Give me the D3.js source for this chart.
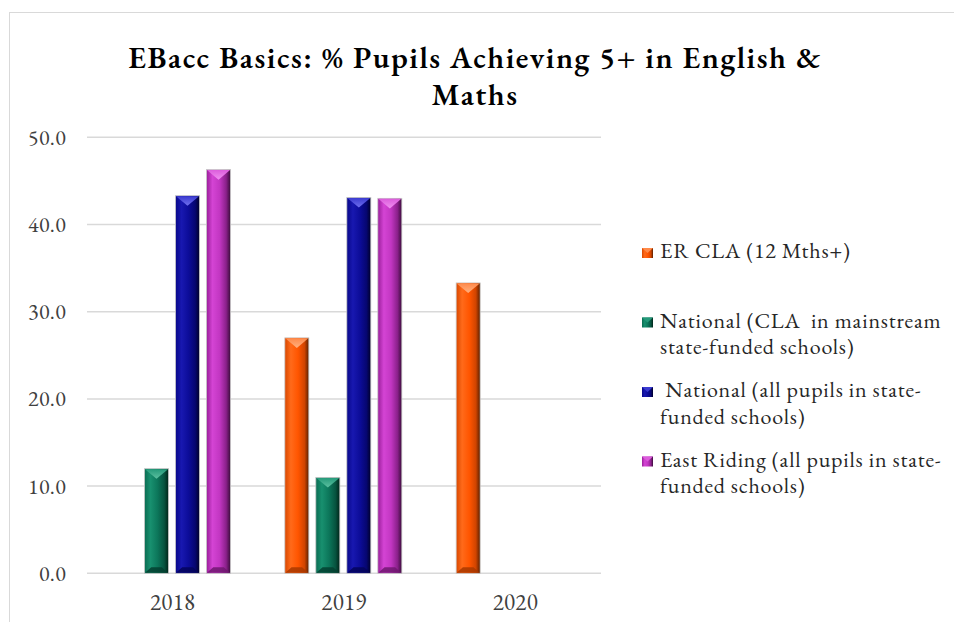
<!DOCTYPE html>
<html>
<head>
<meta charset="utf-8">
<script src="https://cdn.jsdelivr.net/npm/d3@7"></script>
<style>
  html, body { margin: 0; padding: 0; background: #fff; }
  svg { display: block; }
  text { font-family: "EB Garamond", Garamond, "Liberation Serif", "DejaVu Serif", serif; }
</style>
</head>
<body>
<div id="chart"></div>
<script>
/**
 * EBacc basics grouped bar chart — bevelled Excel-style bars.
 */
(function () {
  'use strict';

  var categories = ['2018', '2019', '2020'];
  var seriesNames = [
    'ER CLA (12 Mths+)',
    'National (CLA  in mainstream state-funded schools)',
    ' National (all pupils in state-funded schools)',
    'East Riding (all pupils in state-funded schools)'
  ];
  // legend text exactly as wrapped in the chart
  var legendLines = [
    ['ER CLA (12 Mths+)'],
    ['National (CLA  in mainstream', 'state-funded schools)'],
    [' National (all pupils in state-', 'funded schools)'],
    ['East Riding (all pupils in state-', 'funded schools)']
  ];
  var erCla = [null, 27.0, 33.3];
  var nationalCla = [12.0, 11.0, null];
  var nationalAll = [43.3, 43.1, null];
  var eastRiding = [46.3, 43.0, null];
  var yTicks = [0, 10, 20, 30, 40, 50];

  var seriesValues = [erCla, nationalCla, nationalAll, eastRiding];

  // side shading, top facet, bottom facet per series
  var palettes = [
    { stops: ['#d84800', '#ff6a1a', '#ff5500', '#d04400', '#5a2000'], top: '#ff8a4a', tip: '#ffb080', bottom: '#a83800' },
    { stops: ['#0a6c52', '#18906f', '#0c765a', '#07533f', '#002418'], top: '#259a7a', tip: '#5cc0a0', bottom: '#044030' },
    { stops: ['#08088a', '#1818b0', '#0c0c98', '#060670', '#000028'], top: '#3a3ad0', tip: '#7070ee', bottom: '#04045a' },
    { stops: ['#9a1e9a', '#d444d4', '#c236c2', '#8a208a', '#3a0c3a'], top: '#dc5cdc', tip: '#f090f0', bottom: '#701870' }
  ];
  var stopOffsets = ['0%', '25%', '55%', '82%', '100%'];

  var width = 954, height = 622;
  var plot = { left: 87, right: 601, top: 137.3, bottom: 573.3 };

  var svg = d3.select('#chart').append('svg')
    .attr('width', width).attr('height', height);

  var defs = svg.append('defs');
  palettes.forEach(function (p, i) {
    var g = defs.append('linearGradient').attr('id', 'side' + i)
      .attr('x1', '0%').attr('x2', '100%').attr('y1', '0%').attr('y2', '0%');
    p.stops.forEach(function (c, k) {
      g.append('stop').attr('offset', stopOffsets[k]).attr('stop-color', c);
    });
    var t = defs.append('linearGradient').attr('id', 'top' + i)
      .attr('x1', '0%').attr('x2', '0%').attr('y1', '0%').attr('y2', '100%');
    t.append('stop').attr('offset', '0%').attr('stop-color', p.top);
    t.append('stop').attr('offset', '100%').attr('stop-color', p.tip);
  });

  // chart frame
  svg.append('rect')
    .attr('x', 9.5).attr('y', 12.5).attr('width', 960).attr('height', 640)
    .attr('fill', '#fff').attr('stroke', '#d9d9d9').attr('stroke-width', 1);

  // title
  var title = svg.append('text')
    .attr('text-anchor', 'middle').attr('fill', '#000')
    .style('font-size', '31px').style('font-weight', '600')
    .style('letter-spacing', '1.5px');
  title.append('tspan').attr('x', 475).attr('y', 68).text('EBacc Basics: % Pupils Achieving 5+ in English &');
  title.append('tspan').attr('x', 475).attr('y', 105).text('Maths');

  var x0 = d3.scaleBand().domain(categories).range([plot.left, plot.right]);
  var x1 = d3.scaleBand().domain(d3.range(seriesNames.length))
    .range([26.5, 143.5]).paddingInner(7 / 31);
  var y = d3.scaleLinear().domain([0, 50]).range([plot.bottom, plot.top]);

  // gridlines
  svg.append('g').selectAll('line')
    .data(yTicks).enter().append('line')
    .attr('x1', plot.left).attr('x2', plot.right)
    .attr('y1', function (d) { return y(d); }).attr('y2', function (d) { return y(d); })
    .attr('stroke', '#d9d9d9').attr('stroke-width', 1.5);

  // y tick labels
  svg.append('g').selectAll('text')
    .data(yTicks).enter().append('text')
    .attr('x', 66).attr('y', function (d) { return y(d); }).attr('dy', '0.34em')
    .attr('text-anchor', 'end').attr('fill', '#404040')
    .style('font-size', '22px').style('letter-spacing', '0.3px')
    .text(function (d) { return d3.format('.1f')(d); });

  // x tick labels
  svg.append('g').selectAll('text')
    .data(categories).enter().append('text')
    .attr('x', function (d) { return x0(d) + x0.bandwidth() / 2; })
    .attr('y', 610)
    .attr('text-anchor', 'middle').attr('fill', '#404040')
    .style('font-size', '23px').style('letter-spacing', '0.3px')
    .text(function (d) { return d; });

  // bars
  var bars = [];
  seriesValues.forEach(function (vals, s) {
    vals.forEach(function (v, c) {
      if (v === null) return;
      bars.push({ s: s, cat: categories[c], value: v });
    });
  });

  var bw = x1.bandwidth();
  var barG = svg.append('g').selectAll('.bar')
    .data(bars).enter().append('g')
    .attr('class', 'bar')
    .attr('transform', function (d) { return 'translate(' + (x0(d.cat) + x1(d.s)) + ',0)'; });

  barG.append('rect')
    .attr('x', 0).attr('width', bw)
    .attr('y', function (d) { return y(d.value); })
    .attr('height', function (d) { return y(0) - y(d.value); })
    .attr('fill', function (d) { return 'url(#side' + d.s + ')'; })
    .attr('stroke', '#c8c8c8').attr('stroke-width', 0.8);

  // top facet (V shape)
  barG.append('path')
    .attr('d', function (d) {
      var t = y(d.value), dep = bw * 0.42;
      return 'M0.5,' + (t + 0.5) + 'L' + (bw - 0.5) + ',' + (t + 0.5) +
        'L' + (bw / 2) + ',' + (t + dep) + 'Z';
    })
    .attr('fill', function (d) { return 'url(#top' + d.s + ')'; });

  // bottom facet
  barG.append('path')
    .attr('d', function (d) {
      var b = y(0), dep = 6;
      return 'M0.5,' + (b - 0.5) + 'L' + (bw - 0.5) + ',' + (b - 0.5) +
        'L' + (bw * 0.72) + ',' + (b - dep) + 'L' + (bw * 0.28) + ',' + (b - dep) + 'Z';
    })
    .attr('fill', function (d) { return palettes[d.s].bottom; })
    .attr('opacity', 0.85);

  // legend
  var legendX = 642, legendY = 258, legendStep = 69.5, lineH = 26.5;
  var leg = svg.append('g').selectAll('.legend-item')
    .data(legendLines).enter().append('g')
    .attr('class', 'legend-item')
    .attr('transform', function (d, i) { return 'translate(0,' + (legendY + i * legendStep) + ')'; });

  leg.append('rect')
    .attr('x', legendX).attr('y', -10).attr('width', 11).attr('height', 10)
    .attr('fill', function (d, i) { return 'url(#side' + i + ')'; });
  leg.append('path')
    .attr('d', 'M' + legendX + ',-10L' + (legendX + 11) + ',-10L' + (legendX + 5.5) + ',-5Z')
    .attr('fill', function (d, i) { return palettes[i].top; });

  leg.append('text')
    .attr('fill', '#262626')
    .style('font-size', '22px')
    .style('letter-spacing', '0.8px')
    .style('white-space', 'pre')
    .attr('xml:space', 'preserve')
    .each(function (d) {
      var t = d3.select(this);
      d.forEach(function (line, k) {
        t.append('tspan').attr('x', 660).attr('y', k * lineH).text(line);
      });
    });
})();
</script>
</body>
</html>
